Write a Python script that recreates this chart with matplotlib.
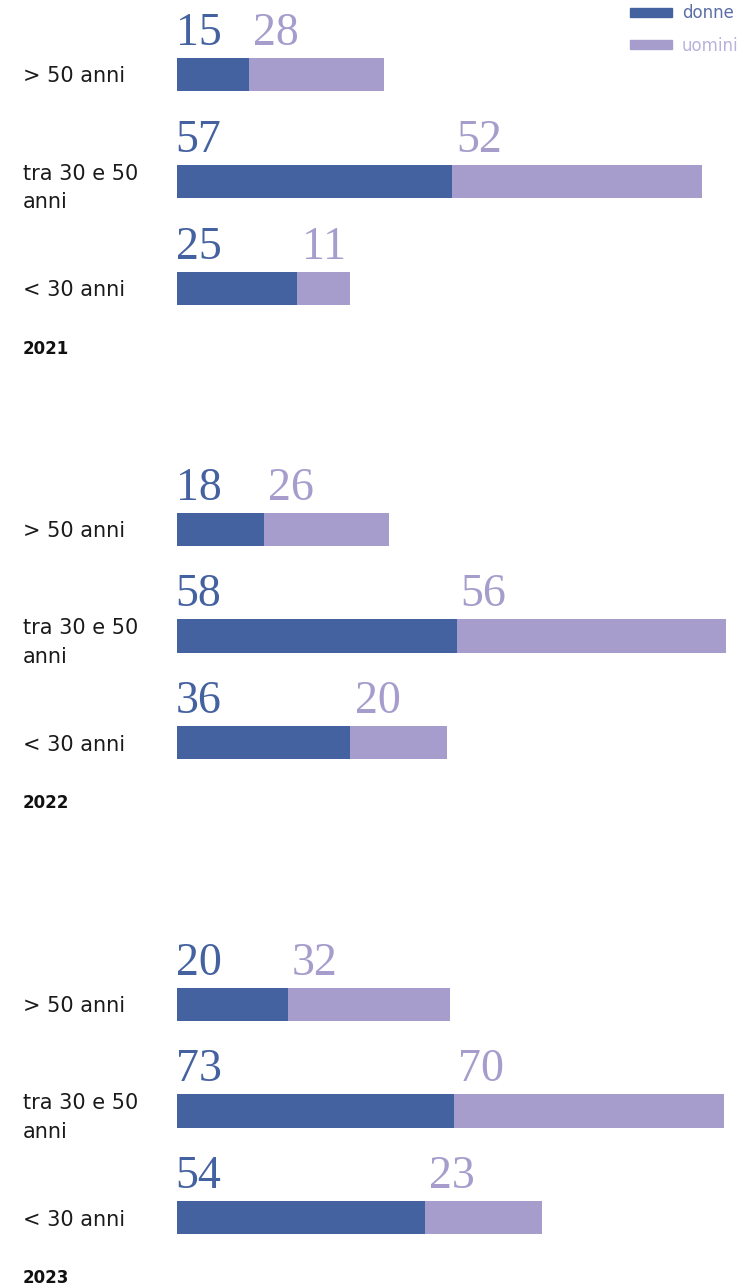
#Importiamo matplotlib
import matplotlib.pyplot as plt
from matplotlib.patches import Patch

#Dati del grafico: dipendenti per fascia d'eta e genere
anni = ["2021", "2022", "2023"]
fasce = ["> 50 anni", "tra 30 e 50\nanni", "< 30 anni"]
#valori scritti sopra le barre
donne = [[15, 57, 25], [18, 58, 36], [20, 73, 54]]
uomini = [[28, 52, 11], [26, 56, 20], [32, 70, 23]]
#lunghezze delle barre (nel 2023 non coincidono con i valori scritti)
donne_barre = [[15, 57, 25], [18, 58, 36], [23, 57.4, 51.5]]
uomini_barre = [[28, 52, 11], [26, 56, 20], [33.7, 56.2, 24.3]]

#Colori
col_donne = "#4562a0"
col_uomini = "#a79dcd"

W, H = 737, 1287
fig = plt.figure(figsize=(W / 100, H / 100), dpi=100)

#posizione verticale (in pixel) di ogni pannello: alto e basso dell'asse
pannelli = [(21, 342), (476, 796), (951, 1271)]
left_px = 177
altezza = 0.31

for i, anno in enumerate(anni):
    top, bottom = pannelli[i]
    ax = fig.add_axes([left_px / W, 1 - bottom / H, (W - left_px) / W, (bottom - top) / H])
    pos = list(range(len(fasce)))
    ax.barh(pos, donne_barre[i], height=altezza, color=col_donne)
    ax.barh(pos, uomini_barre[i], height=altezza, left=donne_barre[i], color=col_uomini)
    ax.set_xlim(0, 116.2)
    ax.set_ylim(-0.5, 2.5)
    ax.invert_yaxis()

    #numeri sopra le barre
    for j in pos:
        ax.annotate(str(donne[i][j]), xy=(0, j - altezza / 2), xytext=(-1, 9.5),
                    textcoords="offset points", ha="left", va="baseline",
                    fontsize=33, family="Liberation Serif", color=col_donne)
        ax.annotate(str(uomini[i][j]), xy=(donne_barre[i][j], j - altezza / 2), xytext=(3, 9.5),
                    textcoords="offset points", ha="left", va="baseline",
                    fontsize=33, family="Liberation Serif", color=col_uomini)

    #etichette delle fasce
    ax.set_yticks(pos, fasce)
    ax.tick_params(axis="y", length=0, pad=(left_px - 23) * 0.72, labelsize=15, labelcolor="#1a1a1a")
    for t in ax.get_yticklabels():
        t.set_ha("left")
        t.set_linespacing(1.55)
    ax.set_xticks([])
    for s in ax.spines.values():
        s.set_visible(False)

    #anno sotto il pannello
    ax.annotate(anno, xy=(23 / W, 1 - (bottom + 7) / H), xycoords="figure fraction",
                ha="left", va="center", fontsize=12, fontweight="bold", color="#111111")

    if i == 0:
        leg = fig.legend(handles=[Patch(color=col_donne, label="donne"),
                                  Patch(color=col_uomini, label="uomini")],
                         loc="upper right", bbox_to_anchor=(1.0 + 10 / W, 1.0 + 4 / H), frameon=False,
                         fontsize=12, handlelength=2.55, handleheight=0.42,
                         handletextpad=0.6, labelspacing=0.85, borderaxespad=0.1)
        leg.get_texts()[0].set_color("#5b6fa6")
        leg.get_texts()[1].set_color("#b9b2dd")

plt.savefig("out.png", dpi=100)
